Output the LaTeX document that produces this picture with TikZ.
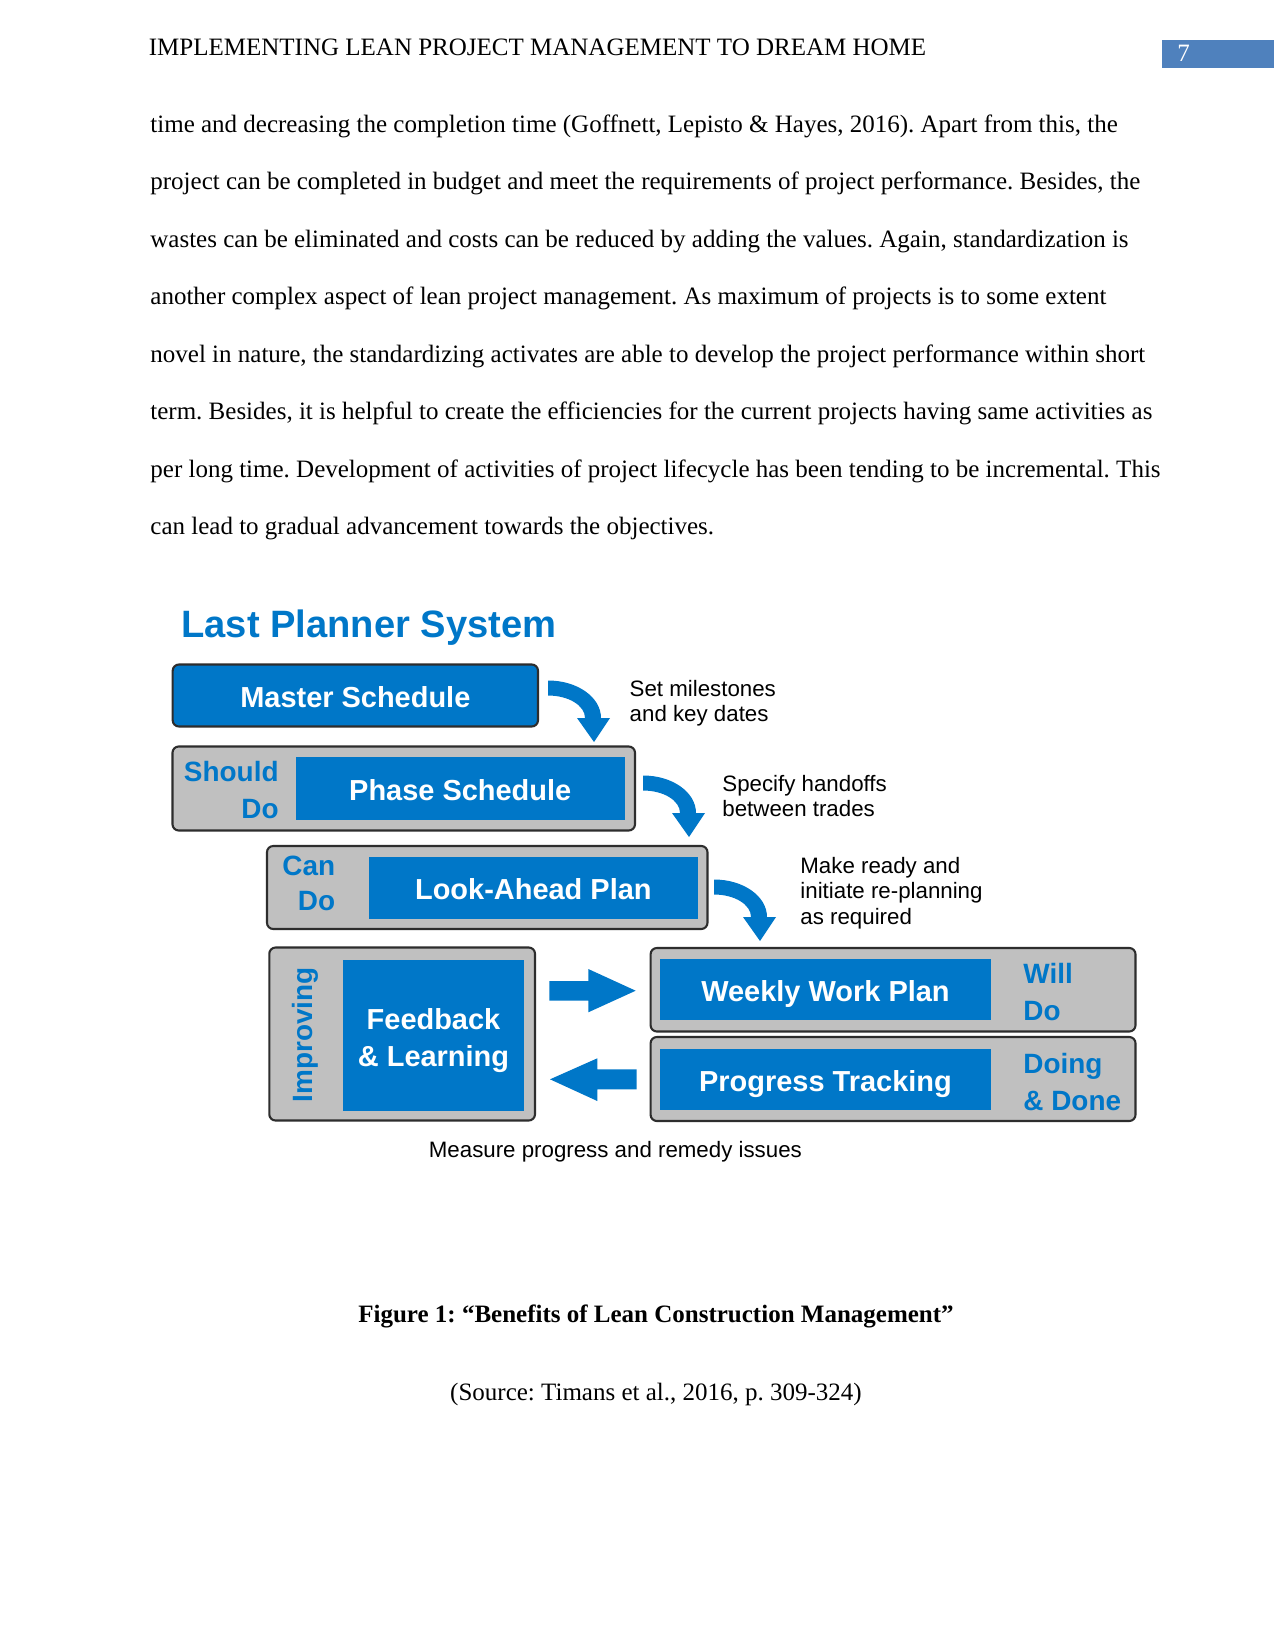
\documentclass[tikz,border=0pt]{standalone}
\usepackage{fontspec}
\setmainfont{Liberation Serif}
\newfontfamily\lsans{Liberation Sans}
\usetikzlibrary{fit}
\definecolor{lpsblue}{RGB}{0,119,200}
\definecolor{lpsgray}{RGB}{192,192,192}
\definecolor{lpsedge}{RGB}{45,45,45}
\definecolor{pgblue}{RGB}{79,129,189}
\newcommand\lpscurve[2]{%
  \fill[lpsblue] (#1,#2-7.5) .. controls (#1+29.5,#2-7.5) and (#1+53,#2+9.3) .. (#1+53,#2+30)
    -- (#1+62,#2+30) -- (#1+46,#2+54) -- (#1+29,#2+30) -- (#1+37,#2+30)
    .. controls (#1+37,#2+17.5) and (#1+20.5,#2+7.5) .. (#1,#2+7.5) -- cycle;}
\begin{document}
\frenchspacing
\begin{tikzpicture}[x=0.48pt,y=-0.48pt,
  outerbox/.style={draw=lpsedge, line width=1pt, rounded corners=3pt, fill=lpsgray, inner sep=0pt},
  masterbox/.style={draw=lpsedge, line width=1pt, rounded corners=3pt, fill=lpsblue, inner sep=0pt},
  innerbox/.style={fill=lpsblue, inner sep=0pt},
  boxlbl/.style={text=white, font=\lsans\bfseries\fontsize{13.9}{16}\selectfont, text height=9.95pt, text depth=0pt, inner sep=0pt, yshift=-0.7pt},
  sidelbl/.style={text=lpsblue, font=\lsans\bfseries\fontsize{13.4}{16}\selectfont, inner sep=0pt},
  note/.style={font=\lsans\fontsize{10.7}{12}\selectfont, inner sep=0pt, anchor=base west},
  body/.style={font=\fontsize{12}{14}\selectfont, inner sep=0pt, anchor=base west}]
\useasboundingbox (0,0) rectangle (1275,1651);
\fill[white] (0,0) rectangle (1275,1651);

% header
\node[body] (hdr) at (148.5,55.5) {IMPLEMENTING LEAN PROJECT MANAGEMENT TO DREAM HOME};
\fill[pgblue] (1162,40) rectangle (1274,68);
\node[body, text=white] (pgno) at (1177,62) {7};

% body text
\node[body] (l1) at (150,132.3) {time and decreasing the completion time (Goffnett, Lepisto \& Hayes, 2016). Apart from this, the};
\node[body] (l2) at (150,189.75) {project can be completed in budget and meet the requirements of project performance. Besides, the};
\node[body] (l3) at (150,247.2) {wastes can be eliminated and costs can be reduced by adding the values. Again, standardization is};
\node[body] (l4) at (150,304.65) {another complex aspect of lean project management. As maximum of projects is to some extent};
\node[body] (l5) at (150,362.1) {novel in nature, the standardizing activates are able to develop the project performance within short};
\node[body] (l6) at (150,419.55) {term. Besides, it is helpful to create the efficiencies for the current projects having same activities as};
\node[body] (l7) at (150,477) {per long time. Development of activities of project lifecycle has been tending to be incremental. This};
\node[body] (l8) at (150,534.45) {can lead to gradual advancement towards the objectives.};

% title
\node[inner sep=0pt, anchor=base west, text=lpsblue, font=\lsans\bfseries\fontsize{18.3}{22}\selectfont] (ttl) at (181,637) {Last Planner System};

% master schedule
\node[masterbox, fit={(172.7,664.5) (538,726.5)}] (ms) {};
\node[boxlbl] (msl) at (ms.center) {Master Schedule};

% phase schedule
\node[outerbox, fit={(172.5,746.5) (635,830.5)}] (ps) {};
\node[innerbox, fit={(295.5,757) (625,820)}] (psi) {};
\node[boxlbl] (psl) at (psi.center) {Phase Schedule};
\node[sidelbl, anchor=base east] (sh1) at (279,781) {Should};
\node[sidelbl, anchor=base east] (sh2) at (279,818.5) {Do};

% look-ahead plan
\node[outerbox, fit={(267,846) (707.5,929)}] (la) {};
\node[innerbox, fit={(368.7,856.7) (698,918.5)}] (lai) {};
\node[boxlbl] (lal) at (lai.center) {Look-Ahead Plan};
\node[sidelbl, anchor=base east] (cn1) at (335.5,875) {Can};
\node[sidelbl, anchor=base east] (cn2) at (335.5,910.7) {Do};

% feedback & learning
\node[outerbox, fit={(269.3,947.5) (535,1120.5)}] (fb) {};
\node[innerbox, fit={(343,960) (524,1110.5)}] (fbi) {};
\node[boxlbl, text height=, yshift=0pt, anchor=base] (fb1) at (433.5,1028) {Feedback};
\node[boxlbl, text height=, yshift=0pt, anchor=base] (fb2) at (433.5,1065) {\& Learning};
\node[sidelbl, rotate=90, anchor=base] (imp) at (312,1034.7) {Improving};

% weekly work plan
\node[outerbox, fit={(650.6,948) (1135.5,1031.5)}] (ww) {};
\node[innerbox, fit={(660,959) (991,1020)}] (wwi) {};
\node[boxlbl] (wwl) at (wwi.center) {Weekly Work Plan};
\node[sidelbl, anchor=base west] (wd1) at (1023,983.3) {Will};
\node[sidelbl, anchor=base west] (wd2) at (1023,1020) {Do};

% progress tracking
\node[outerbox, fit={(650.6,1037) (1135.5,1121)}] (pt) {};
\node[innerbox, fit={(660,1048.6) (991,1110)}] (pti) {};
\node[boxlbl] (ptl) at (pti.center) {Progress Tracking};
\node[sidelbl, anchor=base west] (dd1) at (1023,1073.3) {Doing};
\node[sidelbl, anchor=base west] (dd2) at (1023,1110) {\& Done};

% curved arrows
\lpscurve{548}{688}
\lpscurve{643}{783}
\lpscurve{714}{887}

% straight block arrows
\fill[lpsblue] (549.3,981) -- (588.3,981) -- (588.3,969) -- (635.7,990.7) -- (588.3,1012.3) -- (588.3,1000.7) -- (549.3,1000.7) -- cycle;
\fill[lpsblue] (636.7,1069.3) -- (597.3,1069.3) -- (597.3,1058.3) -- (550,1079.3) -- (597.3,1101) -- (597.3,1089.3) -- (636.7,1089.3) -- cycle;

% notes
\node[note] (n1a) at (629.3,696.7) {Set milestones};
\node[note] (n1b) at (629.3,721.7) {and key dates};
\node[note] (n2a) at (722,791.7) {Specify handoffs};
\node[note] (n2b) at (722,816.7) {between trades};
\node[note] (n3a) at (800,873) {Make ready and};
\node[note] (n3b) at (800,898) {initiate re-planning};
\node[note] (n3c) at (800,924) {as required};
\node[note] (n4) at (428.5,1157) {Measure progress and remedy issues};

% caption
\node[inner sep=0pt, anchor=base, font=\bfseries\fontsize{12}{14}\selectfont] (cap) at (656,1322) {Figure 1: “Benefits of Lean Construction Management”};
\node[inner sep=0pt, anchor=base, font=\fontsize{12}{14}\selectfont] (src) at (656,1400) {(Source: Timans et al., 2016, p. 309-324)};
\end{tikzpicture}
\end{document}
